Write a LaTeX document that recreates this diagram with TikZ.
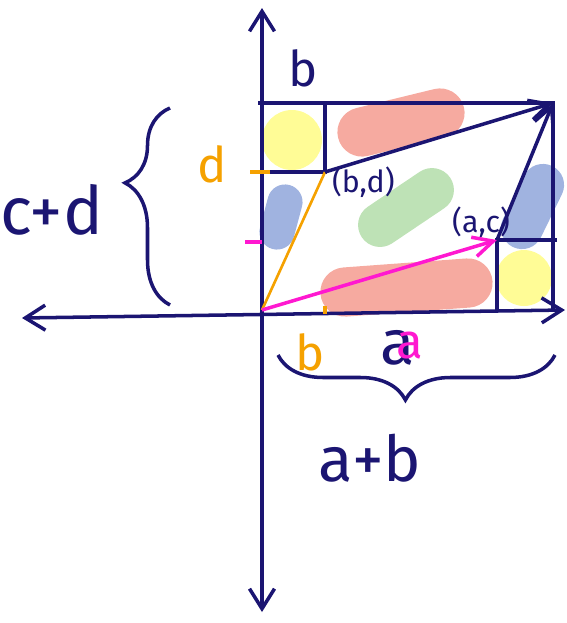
\documentclass[tikz,border=0pt]{standalone}
\usepackage{fontspec}
\setmainfont{Fira Sans}
\usetikzlibrary{arrows.meta,positioning,decorations.pathreplacing}
\definecolor{navy}{HTML}{1B1572}
\definecolor{amber}{HTML}{F5A100}
\definecolor{fuchsia}{HTML}{FF18D0}
\definecolor{lemon}{HTML}{FFFC96}
\definecolor{salmon}{HTML}{F6AAA0}
\definecolor{cornflower}{HTML}{A0B3E0}
\definecolor{mint}{HTML}{BEE2B6}

\begin{document}
\begin{tikzpicture}[x=0.02cm,y=-0.02cm,
    axis/.style={navy,line width=2pt,{Straight Barb[length=4mm,width=5mm]}-{Straight Barb[length=4mm,width=5mm]}},
    edge/.style={navy,line width=2pt},
    vec/.style={line width=2pt,-{Straight Barb[length=4mm,width=4mm]}},
    blob/.style={line cap=round},
    brace/.style={navy,line width=2pt,decorate,decoration={brace,amplitude=9mm,raise=0pt}},
    lbl/.style={navy,font=\Large,inner sep=1pt}]
  \useasboundingbox (0,0) rectangle (567,623);
  % points
  \coordinate (O) at (262,310);
  \coordinate (bd) at (325,172);
  \coordinate (ac) at (497,240);
  \coordinate (abcd) at (553,103);
  % coloured areas
  \fill[lemon] (292,140) circle (0.6cm);
  \fill[lemon] (524,278) circle (0.56cm);
  \draw[blob,salmon,line width=28pt] (362,132) -- (440,113);
  \draw[blob,salmon,line width=28pt] (345,292) -- (468,283);
  \draw[blob,mint,line width=25pt] (380,225) -- (432,190);
  \draw[blob,cornflower,line width=20pt] (285,202) -- (277,232);
  \draw[blob,cornflower,line width=24pt] (543,185) -- (522,228);
  % axes
  \draw[axis] (262,612) -- (262,8);
  \draw[axis] (22,318) -- (565,310);
  % boxes
  \draw[edge] (258,103) -- (abcd) -- (553,310);
  \draw[edge] (262,172) -- (bd) -- (325,103);
  \draw[edge] (497,310) -- (ac) -- (557,240);
  % vectors
  \draw[amber,line width=1.5pt] (O) -- (bd);
  \draw[vec,fuchsia] (O) -- (ac);
  \draw[vec,navy] (bd) -- (abcd);
  \draw[vec,navy] (ac) -- (abcd);
  % ticks
  \draw[amber,line width=2pt] (250,172) -- (270,172);
  \draw[amber,line width=2pt] (325,306) -- (325,314);
  \draw[fuchsia,line width=2pt] (245,242) -- (262,242);
  % braces
  \draw[brace,decoration={aspect=0.62}] (170,305) -- (170,108);
  \draw[brace,decoration={aspect=0.54}] (555,355) -- (278,355);
  % labels
  \node[lbl,font=\fontsize{28}{28}\selectfont] (btop) at (303,68) {b};
  \node[lbl,amber,font=\fontsize{28}{28}\selectfont] (dlbl) at (212,164) {d};
  \node[lbl,font=\LARGE,right=1mm of bd,yshift=-2mm] (bdlbl) {(b,d)};
  \node[lbl,font=\LARGE,above left=0mm and -3mm of ac] (aclbl) {(a,c)};
  \node[lbl,amber,font=\fontsize{28}{28}\selectfont] (bbot) at (310,352) {b};
  \node[lbl,font=\fontsize{36}{36}\selectfont] (anavy) at (398,348) {a};
  \node[lbl,fuchsia,font=\fontsize{28}{28}\selectfont] (apink) at (410,346) {a};
  \node[lbl,font=\fontsize{36}{36}\selectfont] (ab) at (370,458) {a+b};
  \node[lbl,font=\fontsize{38}{38}\selectfont] (cd) at (52,210) {c+d};
\end{tikzpicture}
\end{document}
